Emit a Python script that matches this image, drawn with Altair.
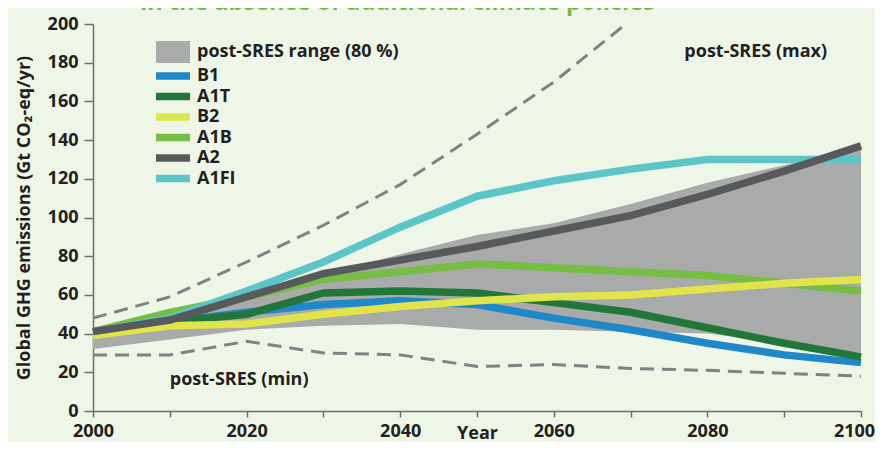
import altair as alt
import pandas as pd

# ---- data ----
years = [2000, 2010, 2020, 2030, 2040, 2050, 2060, 2070, 2080, 2090, 2100]
b1 = [41, 46, 51, 55, 57, 55, 48, 42, 35, 29, 25]
a1t = [41, 46, 50, 61, 62, 61, 56, 51, 43, 35, 28]
b2 = [39, 44, 45, 50, 54, 57, 59, 60, 63, 66, 68]
a1b = [41, 51, 59, 68, 72, 76, 74, 72, 70, 66, 62]
a2 = [41, 47, 59, 71, 78, 85, 93, 101, 112, 124, 137]
a1fi = [41, 48, 62, 77, 95, 111, 119, 125, 130, 130, 130]
range_low = [32, 37, 42, 44, 45, 42, 42, 41, 40, 35, 30]
range_high = [41, 47, 57, 70, 81, 91, 97, 107, 118, 127, 136]
max_years = [2000, 2010, 2020, 2030, 2040, 2050, 2060, 2070]
post_sres_max = [48, 59, 77, 96, 117, 143, 170, 202]
post_sres_min = [29, 29, 36, 30, 29, 23, 24, 22, 21, 19.5, 18]

series_names = ["B1", "A1T", "B2", "A1B", "A2", "A1FI"]
series_colors = ["#1f88c9", "#21763a", "#e1e44b", "#76bd43", "#58595b", "#5bc5c8"]
draw_order = ["B1", "A1T", "A1B", "B2", "A1FI", "A2"]
series_values = {"B1": b1, "A1T": a1t, "B2": b2, "A1B": a1b, "A2": a2, "A1FI": a1fi}

range_label = "post-SRES range (80 %)"
note_labels = ["post-SRES (max)", "post-SRES (min)"]
note_years = [2077, 2010]
note_values = [185.5, 16]

title_text = "in the absence of additional climate policies"
y_title = "Global GHG emissions (Gt CO\u2082-eq/yr)"
x_title = "Year"
y_ticks = list(range(0, 201, 20))

FONT = "Open Sans"
TXT = "#231f20"
AX = "#6d6e71"

# ---- tables ----
band_df = pd.DataFrame({"year": years, "low": range_low, "high": range_high,
                        "band": [range_label] * len(years)})
max_df = pd.DataFrame({"year": max_years, "value": post_sres_max})
min_df = pd.DataFrame({"year": years, "value": post_sres_min})
notes_df = pd.DataFrame({"label": note_labels, "year": note_years, "value": note_values})

x_scale = alt.Scale(domain=[2000, 2100], nice=False, zero=False)
x_axis = alt.Axis(values=years, format="d",
                  labelExpr="datum.value % 20 == 0 ? datum.label : ''",
                  labelOffset={"condition": {"test": "datum.value == 2100",
                                             "value": -7}, "value": 0},
                  title=x_title, tickSize=6, labelPadding=5,
                  titlePadding=-16, labelFlush=False, labelOverlap=False)
y_scale = alt.Scale(domain=[0, 200], nice=False)
y_axis = alt.Axis(values=y_ticks, title=y_title, tickSize=9,
                  labelPadding=6, titlePadding=14, labelOverlap=False,
                  labelFlush=False)


def X():
    return alt.X("year:Q", scale=x_scale, axis=x_axis)


def Y(field):
    return alt.Y(field, scale=y_scale, axis=y_axis)


band = alt.Chart(band_df).mark_area(opacity=1, clip=True).encode(
    x=X(),
    y=Y("low:Q"),
    y2="high:Q",
    fill=alt.Fill("band:N",
                  scale=alt.Scale(domain=[range_label], range=["#a9aaaa"]),
                  legend=alt.Legend(title=None, orient="none", legendX=63, legendY=11,
                                    symbolType="M-1,-0.64H1V0.64H-1Z", symbolSize=1156,
                                    symbolStrokeWidth=0, symbolOpacity=1,
                                    labelOffset=7, padding=0, labelLimit=400)),
)

dash_max = alt.Chart(max_df).mark_line(color="#808285", strokeWidth=3,
                                       strokeDash=[14, 8], clip=True).encode(
    x=X(), y=Y("value:Q"))
dash_min = alt.Chart(min_df).mark_line(color="#808285", strokeWidth=3,
                                       strokeDash=[14, 8], clip=True).encode(
    x=X(), y=Y("value:Q"))

stroke_scale = alt.Scale(domain=series_names, range=series_colors)
stroke_legend = alt.Legend(title=None, orient="none", legendX=59, legendY=42,
                           symbolType="stroke", symbolSize=1156, symbolStrokeWidth=7.5,
                           symbolOpacity=1, clipHeight=20, rowPadding=0.5,
                           labelOffset=3, padding=0, labelLimit=400)

line_layers = []
for name in draw_order:
    df = pd.DataFrame({"year": years, "value": series_values[name],
                       "series": [name] * len(years)})
    line_layers.append(
        alt.Chart(df).mark_line(strokeWidth=7.5, strokeJoin="miter").encode(
            x=X(),
            y=Y("value:Q"),
            stroke=alt.Stroke("series:N", scale=stroke_scale, legend=stroke_legend),
        )
    )

notes = alt.Chart(notes_df).mark_text(align="left", baseline="middle", font=FONT,
                                      fontSize=18, fontWeight="bold", color=TXT).encode(
    x=X(), y=Y("value:Q"), text="label:N")

chart = alt.layer(band, dash_max, dash_min, *line_layers, notes).properties(
    width=768, height=387,
    title=alt.TitleParams(text=title_text, anchor="start", frame="group", dx=47,
                          dy=2, offset=3, font=FONT, fontSize=23.5, fontWeight="bold",
                          color="#76bd43"),
    autosize=alt.AutoSizeParams(type="none"),
    padding={"left": 85, "top": 16, "right": 14, "bottom": 31},
    background="#eef6e8",
).configure_view(stroke=None).configure_axis(
    grid=False, labelFont=FONT, labelFontSize=18, labelFontWeight="bold",
    labelColor=TXT, titleFont=FONT, titleFontSize=18, titleFontWeight="bold",
    titleColor=TXT, domainColor=AX, tickColor=AX, domainWidth=1.5, tickWidth=1.5,
).configure_legend(
    labelFont=FONT, labelFontSize=18, labelFontWeight="bold", labelColor=TXT,
)

chart.save("out.html", embed_options={"renderer": "svg", "actions": False})
